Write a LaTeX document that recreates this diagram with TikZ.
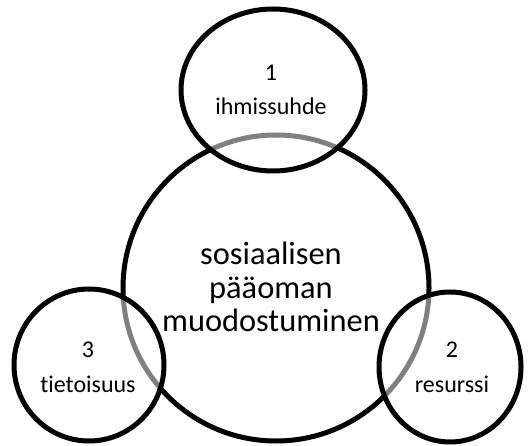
\documentclass[tikz,border=0pt]{standalone}
\usepackage{fontspec}
\setmainfont{Carlito}[Ligatures=NoCommon]
\begin{document}
\begin{tikzpicture}[x=1pt,y=-1pt,
  ring/.style={draw=black,line width=5pt},
  satellite/.style={ring,fill=white,fill opacity=0.5,draw opacity=1},
  bigtxt/.style={font=\fontsize{32.4}{33.5}\selectfont,align=center,inner sep=0pt},
  smalltxt/.style={font=\fontsize{24}{27}\selectfont,inner sep=0pt}]
\useasboundingbox (0,0) rectangle (532,446);
% main circle
\draw[ring] (276,288) circle[radius=153];
% satellites
\path[satellite] (273,90) ellipse[x radius=92,y radius=81];
\path[satellite] (89,365) ellipse[x radius=75,y radius=76];
\path[satellite] (450,367) ellipse[x radius=71,y radius=75];
% texts
\node[bigtxt] (main) at (271,287) {sosiaalisen\\pääoman\\muodostuminen};
\node[smalltxt] (n1) at (271,73) {1};
\node[smalltxt] (t1) at (271,106) {ihmissuhde};
\node[smalltxt] (n3) at (88,350) {3};
\node[smalltxt] (t3) at (88,384) {tietoisuus};
\node[smalltxt] (n2) at (452,350) {2};
\node[smalltxt] (t2) at (452,384) {resurssi};
\end{tikzpicture}
\end{document}
